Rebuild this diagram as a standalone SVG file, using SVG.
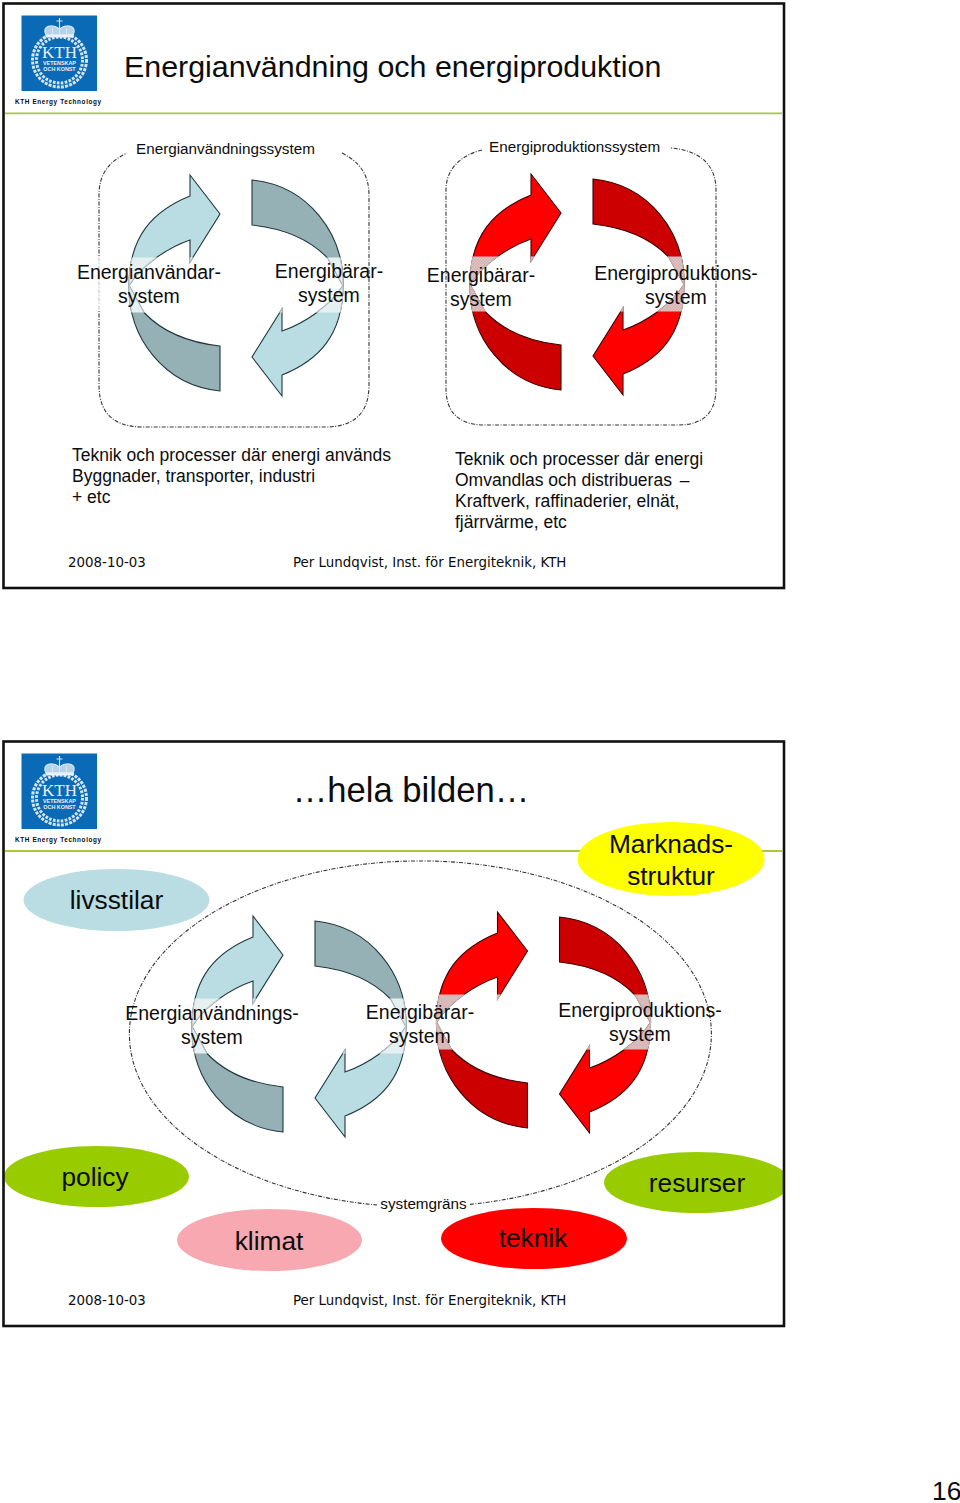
<svg xmlns="http://www.w3.org/2000/svg" width="960" height="1503" viewBox="0 0 960 1503">
<style>
text{font-family:"Liberation Sans",Arial,sans-serif;fill:#0c0c0c}
.frame{fill:none;stroke:#111;stroke-width:2.6}
.rule{stroke:#a9c83c;stroke-width:1.8}
.foot{font-family:"DejaVu Sans",Verdana,sans-serif;font-size:13.4px}
.title{font-size:30.4px}
.sub{font-size:15.25px}
.lab{font-size:19.5px;text-anchor:middle}
.body{font-size:17.5px;white-space:pre}
.oval{font-size:26.3px;text-anchor:middle}
.dash{fill:none;stroke:#333;stroke-width:1.1;stroke-dasharray:4 1.5 1 1.5}
.hd{font-size:34.6px;text-anchor:middle}
.tag{font-size:6.4px;font-weight:bold;letter-spacing:.62px}
.kth{font-family:"Liberation Serif",serif;font-size:17px;text-anchor:middle;fill:#e8f1f8}
.kt2{font-size:5.4px;font-weight:bold;text-anchor:middle;fill:#e8f1f8}
</style>
<defs>
<path id="lt" stroke-width="1.1" d="M-107 0C-107-50-82-75-46-89.5V-110.5L-16-71.5-46-23.5V-45.5C-68-38-95-20-107 0Z"/>
<path id="dk" stroke-width="1.1" d="M-107 0C-108 52-72 100-16 105.5V60.5C-48 57-74 46-92 27L-107 0Z"/>
<clipPath id="band"><rect x="-120" y="-28" width="240" height="55"/></clipPath>
<clipPath id="s2"><rect x="3" y="741" width="781" height="585"/></clipPath>
<pattern id="dith" width="3" height="3" patternUnits="userSpaceOnUse"><rect width="3" height="3" fill="#e6d4d4"/><rect width="1.5" height="1.5" fill="#cf9f9f"/><rect x="1.5" y="1.5" width="1.5" height="1.5" fill="#cf9f9f"/></pattern>
<g id="ring"><use href="#lt"/><use href="#dk"/><use href="#lt" transform="rotate(180)"/><use href="#dk" transform="rotate(180)"/></g>
<g id="cycB">
<g stroke="#20383d"><use href="#lt" fill="#b9dde2"/><use href="#dk" fill="#95b1b5"/><use href="#lt" fill="#b9dde2" transform="rotate(180)"/><use href="#dk" fill="#95b1b5" transform="rotate(180)"/></g>
<g clip-path="url(#band)"><use href="#ring" fill="#e7f0f1" stroke="#bbc6c8"/></g>
</g>
<g id="cycR">
<g stroke="#3c0000"><use href="#lt" fill="#ff0000"/><use href="#dk" fill="#cc0000"/><use href="#lt" fill="#ff0000" transform="rotate(180)"/><use href="#dk" fill="#cc0000" transform="rotate(180)"/></g>
<g clip-path="url(#band)"><use href="#ring" fill="url(#dith)" stroke="#c9b5b5"/></g>
</g>
<g id="crest">
<rect x="21.5" y="15.5" width="75.5" height="75.5" fill="#0b6ab6"/>
<g fill="none" stroke="#d5e5f2">
<circle cx="59.5" cy="60" r="27" stroke-width="3" stroke-dasharray="3 1.2"/>
<circle cx="59.5" cy="60" r="23" stroke-width="3" stroke-dasharray="2.6 1.4"/>
<path d="M46 35C41 25 53 24 59.5 29 66 24 78 25 73 35Z" fill="#b6d2e8" stroke-width="1.2"/>
<path d="M59.5 18V29M56.5 21H62.5M52.5 28V35M59.5 29V35M66.5 28V35" stroke-width="1.1"/>
<rect x="45.5" y="34.5" width="28" height="3" fill="#e8f1f8" stroke="none"/>
</g>
</g>
</defs>
<rect width="960" height="1503" fill="#fff"/>

<g id="slide1">
<rect class="frame" x="3.5" y="3.5" width="780.5" height="584.5"/>
<line class="rule" x1="5" y1="113.3" x2="782" y2="113.3"/>
<g id="logo1"><use href="#crest"/><text class="kth" x="59.5" y="58">KTH</text><text class="kt2" x="59.5" y="64.5">VETENSKAP</text><text class="kt2" x="59.5" y="70.5">OCH KONST</text><text class="tag" x="15" y="104">KTH Energy Technology</text></g>
<text id="title1" class="title" x="124" y="76.5">Energianvändning och energiproduktion</text>
<g id="connectors1">
<path class="dash" d="M342 153C360 162 369 175 369 195V385Q369 427 325 427H143Q99 427 99 385V195C99 175 108 162 127 153"/>
<path class="dash" d="M482 150C462 155 446 168 446 190V388Q446 425 485 425H678Q716 425 716 388V190C716 165 700 150 670 148"/>
<rect x="96" y="257" width="6" height="54" fill="#fff" opacity=".7"/>
</g>
<g id="use-system"><text class="sub" x="136" y="154">Energianvändningssystem</text>
<use href="#cycB" x="236" y="285.5"/>
<text class="lab" x="149" y="279">Energianvändar-</text><text class="lab" x="149" y="303">system</text>
<text class="lab" x="329" y="278">Energibärar-</text><text class="lab" x="329" y="302">system</text></g>
<g id="prod-system"><text class="sub" x="489" y="152">Energiproduktionssystem</text>
<use href="#cycR" x="577" y="284.5"/>
<text class="lab" x="481" y="282">Energibärar-</text><text class="lab" x="481" y="306">system</text>
<text class="lab" x="676" y="280">Energiproduktions-</text><text class="lab" x="676" y="304">system</text></g>
<g id="body1"><text class="body" x="72" y="461">Teknik och processer där energi används</text><text class="body" x="72" y="482">Byggnader, transporter, industri</text><text class="body" x="72" y="503">+ etc</text></g>
<g id="body2"><text class="body" x="455" y="465">Teknik och processer där energi</text><text class="body" x="455" y="486">Omvandlas och distribueras <tspan dx="-2"> –</tspan></text><text class="body" x="455" y="507">Kraftverk, raffinaderier, elnät,</text><text class="body" x="455" y="528">fjärrvärme, etc</text></g>
<text class="foot" x="68" y="567">2008-10-03</text><text class="foot" x="293" y="567">Per Lundqvist, Inst. för Energiteknik, KTH</text>
</g>

<g id="slide2">
<line class="rule" x1="5" y1="851" x2="782" y2="851"/>
<g id="logo2"><use href="#crest" y="738"/><text class="kth" x="59.5" y="796">KTH</text><text class="kt2" x="59.5" y="802.5">VETENSKAP</text><text class="kt2" x="59.5" y="808.5">OCH KONST</text><text class="tag" x="15" y="842">KTH Energy Technology</text></g>
<text id="title2" class="hd" x="411" y="802">…hela bilden…</text>
<g id="connectors2"><path class="dash" d="M470 1204.4A291 173 0 1 0 377 1205"/></g>
<text id="systemgrans" class="sub" x="423.5" y="1209" text-anchor="middle">systemgräns</text>
<g id="n-livsstilar"><ellipse cx="116.5" cy="900" rx="93" ry="31" fill="#b9dde2"/><text class="oval" x="116.5" y="909">livsstilar</text></g>
<g id="n-marknad"><ellipse cx="671" cy="859" rx="93.5" ry="37" fill="#ffff00"/><text class="oval" x="671" y="853">Marknads-</text><text class="oval" x="671" y="884.5">struktur</text></g>
<g id="n-policy"><ellipse cx="96.5" cy="1176.5" rx="92.5" ry="30.5" fill="#99cc00"/><text class="oval" x="95" y="1186">policy</text></g>
<g id="n-resurser" clip-path="url(#s2)"><ellipse cx="697" cy="1182.5" rx="93" ry="30.5" fill="#99cc00"/><text class="oval" x="697" y="1191.5">resurser</text></g>
<g id="n-klimat"><ellipse cx="269.5" cy="1240" rx="92.5" ry="31" fill="#f7a8b0"/><text class="oval" x="269" y="1249.5">klimat</text></g>
<g id="n-teknik"><ellipse cx="534" cy="1238.5" rx="93" ry="30.5" fill="#ff0000"/><text class="oval" x="533" y="1247">teknik</text></g>
<g id="n-use"><use href="#cycB" x="299" y="1026.5"/><text class="lab" x="212" y="1020">Energianvändnings-</text><text class="lab" x="212" y="1044">system</text></g>
<g id="n-prod"><use href="#cycR" x="543.5" y="1022.5"/><text class="lab" x="420" y="1019">Energibärar-</text><text class="lab" x="420" y="1043">system</text><text class="lab" x="640" y="1017">Energiproduktions-</text><text class="lab" x="640" y="1041">system</text></g>
<rect class="frame" x="3.5" y="741.5" width="780.5" height="584.5"/>
<text class="foot" x="68" y="1305">2008-10-03</text><text class="foot" x="293" y="1305">Per Lundqvist, Inst. för Energiteknik, KTH</text>
</g>
<text id="page" x="932" y="1500" font-size="26.5">16</text>
</svg>
